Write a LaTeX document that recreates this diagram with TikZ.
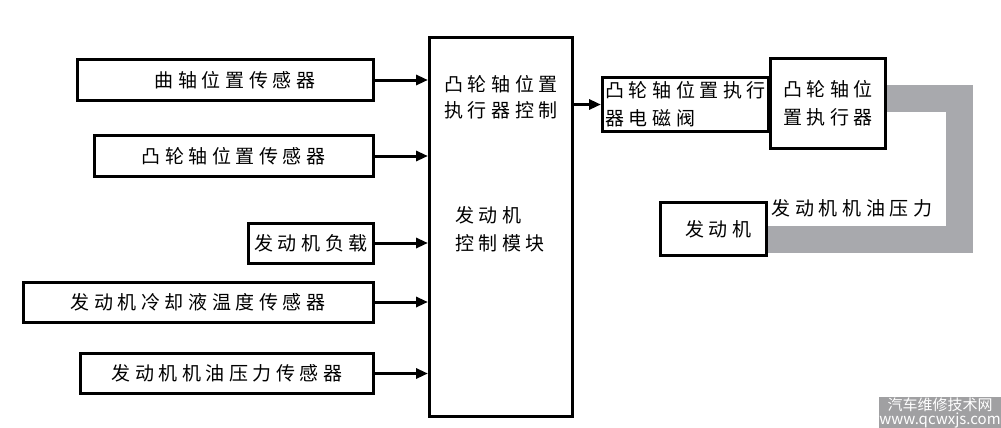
\documentclass[tikz,border=0pt]{standalone}
\usepackage{fontspec}
\newfontfamily\cjk[LetterSpace=24]{Noto Sans CJK SC}
\newfontfamily\cjkplain{Noto Sans CJK SC}
\usetikzlibrary{arrows.meta,positioning}

\definecolor{oilgray}{RGB}{168,169,173}
\definecolor{wmgray}{RGB}{160,160,162}

\begin{document}
\begin{tikzpicture}[
    x = 1pt, y = -1pt, % pixel grid, y pointing down
    > = {Triangle[length=12pt,width=10pt]}, % arrow head style
    line width = 3pt, % line style
    font = \cjk\fontsize{19}{26}\selectfont
    ]

    \tikzset{box/.style={
    draw = black,
    line width = 3pt,
    inner sep = 1pt,
    align = center
    }}
    \tikzset{oilline/.style={
    draw = oilgray,
    line width = 27pt,
    line join = miter
    }}

    \useasboundingbox (0,0) rectangle (1001,428);

    % sensors on the left
    \node[box, minimum width=296pt, minimum height=41pt] (crank) at (225,80) {\hspace*{20pt}曲轴位置传感器};
    \node[box, minimum width=279pt, minimum height=41pt] (camsens) at (233.5,156) {凸轮轴位置传感器};
    \node[box, minimum width=125pt, minimum height=40pt] (load) at (311,243) {发动机负载};
    \node[box, minimum width=350pt, minimum height=40pt] (coolant) at (198,302) {发动机冷却液温度传感器};
    \node[box, minimum width=293pt, minimum height=40pt] (oilsens) at (227,373.5) {发动机机油压力传感器};

    % control module
    \node[box, minimum width=143pt, minimum height=379pt] (ecm) at (501,227) {};
    \node[align=center, inner sep=0pt] (ecmtop) at (501,97.5) {凸轮轴位置\\执行器控制};
    \node[align=left, inner sep=0pt, font=\cjk\fontsize{19}{28}\selectfont] (ecmmid) at (500,229) {发动机\\控制模块};

    % actuator side
    \node[box, minimum width=166pt, minimum height=54pt, align=left, inner sep=0pt,
          font=\cjk\fontsize{19}{28}\selectfont] (sol) at (685.5,104.5) {凸轮轴位置执行\\器电磁阀};
    \node[box, minimum width=115pt, minimum height=90pt,
          font=\cjk\fontsize{19}{28}\selectfont] (act) at (828,103.5) {凸轮轴位\\置执行器};
    \node[box, minimum width=106pt, minimum height=53pt] (eng) at (713.5,229) {\hspace*{10pt}发动机};
    \coordinate (bend) at (959.5,170);
    \node[inner sep=0pt] (oiltxt) at (852,208) {发动机机油压力};

    \draw[->] (crank.east) -- (crank.east -| ecm.west);
    \draw[->] (camsens.east) -- (camsens.east -| ecm.west);
    \draw[->] (load.east) -- (load.east -| ecm.west);
    \draw[->] (coolant.east) -- (coolant.east -| ecm.west);
    \draw[->] (oilsens.east) -- (oilsens.east -| ecm.west);
    \draw[->] (ecm.east |- sol.west) -- (sol.west);

    \draw[oilline] ([yshift=5pt]act.east) -| (bend) |- ([yshift=-10pt]eng.east);

    \node[fill=wmgray, text=white, inner sep=0pt, minimum width=116pt, minimum height=29pt,
          align=center, font=\cjkplain\fontsize{15}{14}\selectfont] (wm) at (940,412.5) {汽车维修技术网\\www.qcwxjs.com};
\end{tikzpicture}
\end{document}
